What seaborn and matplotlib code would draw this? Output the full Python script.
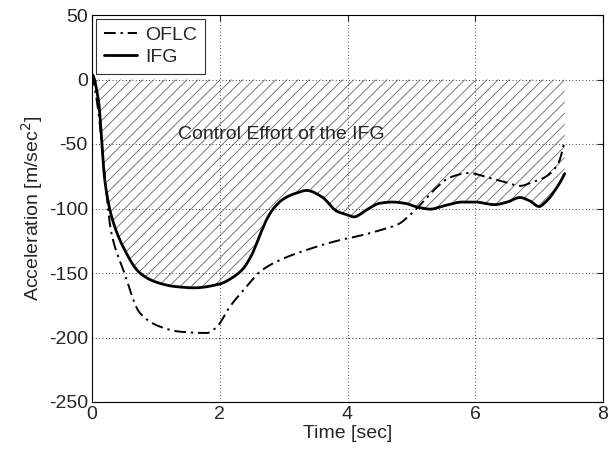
import numpy as np
import pandas as pd
import matplotlib
matplotlib.use("Agg")
import matplotlib.pyplot as plt
import seaborn as sns

sns.set_style("white")
plt.rcParams['font.family'] = ['Liberation Sans', 'DejaVu Sans']
plt.rcParams['axes.unicode_minus'] = False
plt.rcParams['hatch.color'] = '#555555'
plt.rcParams['hatch.linewidth'] = 0.6

t_ifg = [0.0, 0.1, 0.2, 0.3, 0.5, 0.75, 1.0, 1.3, 1.6, 2.0, 2.2, 2.36, 2.5, 2.65, 2.75, 2.85, 3.0, 3.2, 3.36, 3.6, 3.83,
         4.0, 4.1, 4.3, 4.5, 4.7, 4.9, 5.1, 5.3, 5.5, 5.8, 6.0, 6.3, 6.5, 6.7, 6.85, 7.0, 7.1, 7.3, 7.4]
a_ifg = [4, -16, -78, -105, -131, -150, -157, -160.5, -161.5, -158.5, -153.5, -147, -136, -118, -107, -99.5, -92.5, -88,
         -86, -91, -102,
         -105, -106.5, -101, -96, -95, -96, -99, -100.5, -98, -95, -95, -97, -95, -91.5, -94, -98.5, -95, -82, -73]

t_oflc = [0.0, 0.1, 0.2, 0.3, 0.5, 0.75, 1.06, 1.38, 1.8, 1.95, 2.16, 2.42, 2.63, 2.94, 3.46, 3.88, 4.2, 4.5, 4.8, 5.0,
          5.2, 5.4, 5.6, 5.9, 6.2, 6.5, 6.7, 6.9, 7.1, 7.3, 7.4]
a_oflc = [4, -25, -75, -118, -149, -181, -191.5, -195.5, -196.5, -192, -176, -160.5, -149, -140, -130.5, -124.5, -121,
          -117, -112, -104,
          -94, -83.5, -76, -72.5, -76, -80, -82.5, -79.5, -75.5, -65, -47]

xticks = [0, 2, 4, 6, 8]
yticks = [50, 0, -50, -100, -150, -200, -250]

def smooth(t, a, n=400):
    tt = np.linspace(t[0], t[-1], n)
    s = pd.Series(a, index=t)
    s = s.reindex(sorted(set(list(t) + list(tt)))).interpolate(method='pchip')
    return s.index.values, s.values

ti, ai = smooth(t_ifg, a_ifg)
to, ao = smooth(t_oflc, a_oflc)
df_i = pd.DataFrame({'t': ti, 'a': ai})
df_o = pd.DataFrame({'t': to, 'a': ao})

FS = 14
fig = plt.figure(figsize=(6.14, 4.5), dpi=100)
ax = fig.add_axes([92/614, 1 - 402/450, 511/614, 387/450])

ax.fill_between(df_i['t'], 0, df_i['a'], facecolor='none', edgecolor='#666666', hatch='///', linewidth=0)
sns.lineplot(data=df_o, x='t', y='a', ax=ax, color='black', lw=1.4, linestyle=(0, (6, 2.5, 1.2, 2.5)),
             label='OFLC', sort=False)
sns.lineplot(data=df_i, x='t', y='a', ax=ax, color='black', lw=2.0, label='IFG', sort=False)

ax.text(1.35, -43, 'Control Effort of the IFG', fontsize=FS, va='center', ha='left')

ax.set_xlim(0, 8)
ax.set_ylim(-250, 50)
ax.set_xticks(xticks)
ax.set_yticks(yticks)
ax.tick_params(direction='in', labelsize=FS, length=4, width=0.8, top=True, right=True, pad=3)
ax.grid(True, color='black', linestyle=(0, (1, 3)), linewidth=0.6)
for s in ax.spines.values():
    s.set_color('black')
    s.set_linewidth(0.8)
ax.set_xlabel('Time [sec]', fontsize=FS, labelpad=1)
ax.set_ylabel('Acceleration [m/sec$^2$]', fontsize=FS, labelpad=3)

leg = ax.legend(loc='upper left', fontsize=FS, frameon=True, fancybox=False, handlelength=1.7,
                borderaxespad=0.2, borderpad=0.4, labelspacing=0.2, handletextpad=0.45)
leg.get_frame().set_edgecolor('black')
leg.get_frame().set_linewidth(0.8)

fig.savefig('out.png', dpi=100)
